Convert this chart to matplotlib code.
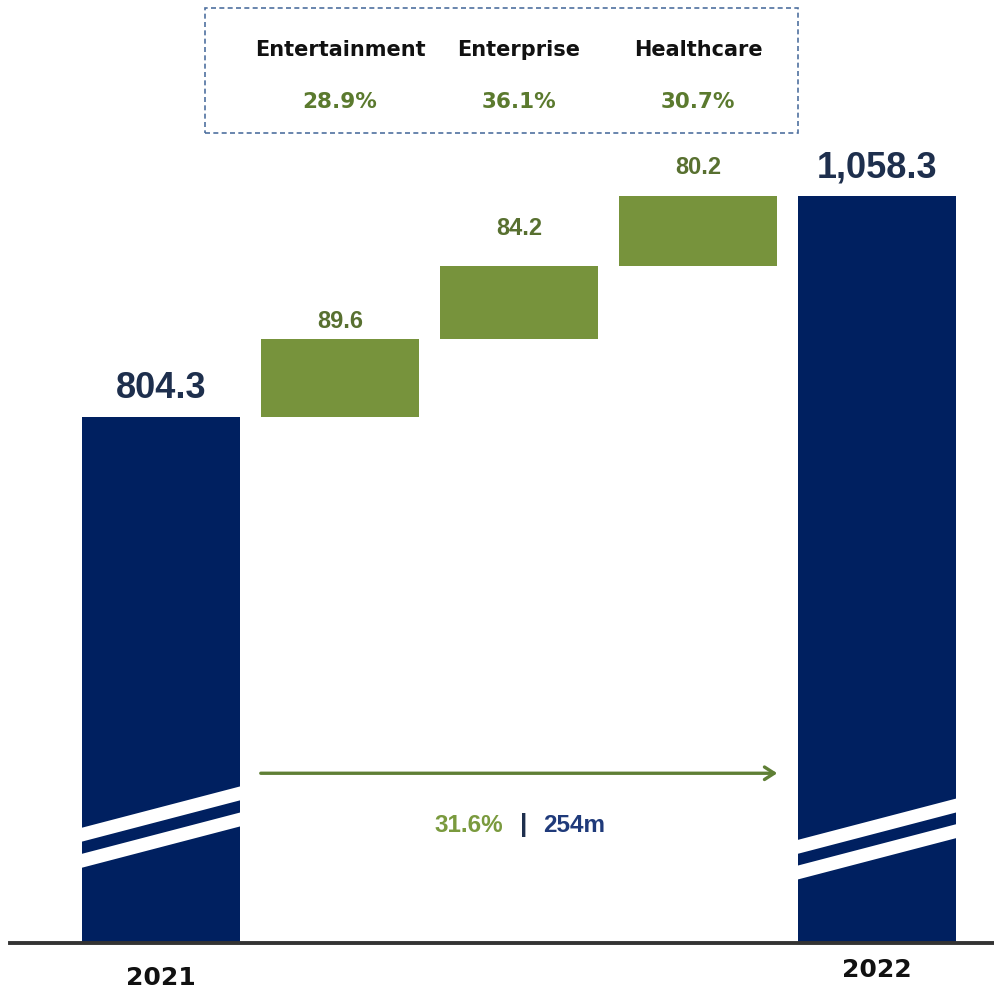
import matplotlib
matplotlib.use("Agg")
import matplotlib.pyplot as plt
import matplotlib.transforms as mtransforms
from matplotlib.patches import Polygon, Rectangle

# data
years = ["2021", "2022"]
start_value = 804.3
end_value = 1058.3
segments = ["Entertainment", "Enterprise", "Healthcare"]
increments = [89.6, 84.2, 80.2]
segment_growth = ["28.9%", "36.1%", "30.7%"]
total_growth_pct = "31.6%"
total_growth_abs = "254m"

NAVY = "#002060"
GREEN = "#77933c"
GREEN_TXT = "#587030"
GREEN_PCT = "#5b7a2e"
GREEN_LIGHT = "#7a9a3e"
DARK_TXT = "#1e2f4d"

plt.rcParams['font.family'] = ['Liberation Sans', 'DejaVu Sans']

fig = plt.figure(figsize=(9.94, 9.92), dpi=100)
ax = fig.add_axes([0, 0.0494, 1, 0.9506])
y0 = 200.0
ax.set_xlim(-0.9, 4.654)
ax.set_ylim(y0, 1283.8)
ax.axis('off')

width = 0.883
xs = list(range(len(increments) + 2))

# totals
ax.bar([xs[0], xs[-1]], [start_value - y0, end_value - y0], bottom=y0,
       width=width, color=NAVY, zorder=2)

# increments (floating)
bottoms = []
running = start_value
for v in increments:
    bottoms.append(running)
    running += v
ax.bar(xs[1:-1], increments, bottom=bottoms, width=width, color=GREEN, zorder=2)

# axis break stripes on the total bars (white bands)
def break_bands(xc, lows, thick=16.0, rise=48.5):
    for lo in lows:
        xl, xr = xc - width / 2 - 0.01, xc + width / 2 + 0.01
        poly = Polygon([(xl, lo), (xr, lo + rise), (xr, lo + rise + thick), (xl, lo + thick)],
                       closed=True, facecolor='white', edgecolor='none', zorder=3)
        ax.add_patch(poly)

break_bands(xs[0], [286.0, 316.0])
break_bands(xs[-1], [272.5, 302.0])

# baseline
ax.axhline(y0, xmin=10 / 994, xmax=1, color='#333333', lw=2.8, zorder=4, clip_on=False)

# total labels
for x, v, off in [(xs[0], start_value, 13.5), (xs[-1], end_value, 13.5)]:
    ax.annotate(f"{v:,.1f}", (x, v), xytext=(0, off), textcoords='offset points',
                ha='center', va='baseline', fontsize=26, fontweight='bold', color=DARK_TXT)

# increment labels
inc_offsets = [8.0, 22.5, 16.0]
for x, b, v, off in zip(xs[1:-1], bottoms, increments, inc_offsets):
    ax.annotate(f"{v:.1f}", (x, b + v), xytext=(0, off), textcoords='offset points',
                ha='center', va='baseline', fontsize=17, fontweight='bold', color=GREEN_TXT)

# category labels below axis
trans_fig_y = mtransforms.blended_transform_factory(ax.transData, fig.transFigure)
ax.text(xs[0], 1 - 978 / 992, years[0], transform=trans_fig_y, ha='center', va='center',
        fontsize=18, fontweight='bold', family='DejaVu Sans', color='#111111')
ax.text(xs[-1], 1 - 970 / 992, years[1], transform=trans_fig_y, ha='center', va='center',
        fontsize=18, fontweight='bold', family='DejaVu Sans', color='#111111')

# growth arrow
trans_ax_y = mtransforms.blended_transform_factory(ax.transData, ax.transAxes)
ax.annotate("", xy=(xs[-1] - width / 2 - 0.1, 0.18), xytext=(xs[0] + width / 2 + 0.1, 0.18),
            xycoords=trans_ax_y, textcoords=trans_ax_y,
            arrowprops=dict(arrowstyle='->,head_length=0.7,head_width=0.45',
                            color='#5f7f35', lw=2.4))

mid = (xs[0] + xs[-1]) / 2
ax.text(mid - 0.09, 0.125, total_growth_pct, transform=trans_ax_y, ha='right', va='center',
        fontsize=17.5, fontweight='bold', color=GREEN_LIGHT)
ax.text(mid + 0.025, 0.125, "|", transform=trans_ax_y, ha='center', va='center',
        fontsize=19, fontweight='bold', color=DARK_TXT)
ax.text(mid + 0.135, 0.125, total_growth_abs, transform=trans_ax_y, ha='left', va='center',
        fontsize=17.5, fontweight='bold', color='#1f3a7a')

# segment growth box
box = Rectangle((205 / 994, 1 - 133 / 992), (798 - 205) / 994, 125 / 992,
                transform=fig.transFigure, fill=False, edgecolor='#4f71a0',
                lw=1.2, linestyle=(0, (3, 2)))
fig.patches.append(box)
for x, name, pct in zip(xs[1:-1], segments, segment_growth):
    ax.text(x, 1 - 50 / 992, name, transform=trans_fig_y, ha='center', va='center',
            fontsize=15, fontweight='bold', family='DejaVu Sans', color='#111111')
    ax.text(x, 1 - 102 / 992, pct, transform=trans_fig_y, ha='center', va='center',
            fontsize=15.5, fontweight='bold', family='DejaVu Sans', color=GREEN_PCT)

fig.savefig("out.png", dpi=100)
